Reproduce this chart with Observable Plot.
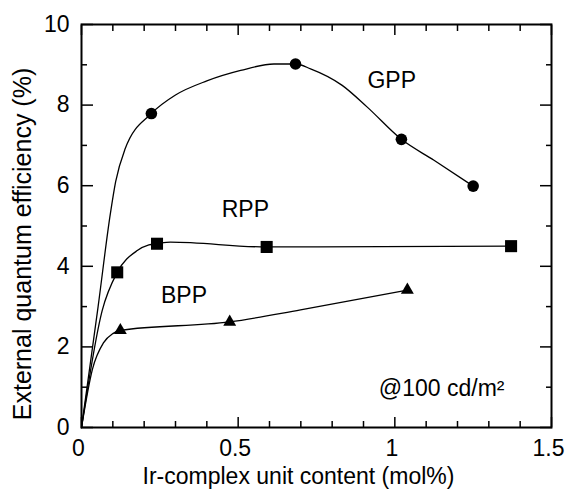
<!DOCTYPE html>
<html>
<head>
<meta charset="utf-8">
<script src="https://cdn.jsdelivr.net/npm/d3@7"></script>
<script src="https://cdn.jsdelivr.net/npm/@observablehq/plot@0.6"></script>
<style>
  html, body { margin: 0; padding: 0; background: white; }
</style>
</head>
<body>
<div id="chart"></div>
<script>
// Measured data points (markers)
const gppX = [0.223, 0.683, 1.021, 1.25];
const gppY = [7.79, 9.02, 7.15, 5.99];
const rppX = [0.114, 0.241, 0.591, 1.371];
const rppY = [3.85, 4.56, 4.48, 4.50];
const bppX = [0.124, 0.473, 1.04];
const bppY = [2.41, 2.62, 3.41];

// Points
const gppFitX = [0, 0.053, 0.092, 0.109, 0.139, 0.223, 0.30, 0.40, 0.508, 0.614, 0.683, 0.731, 0.832, 0.912, 1.021, 1.125, 1.25];
const gppFitY = [0, 3.0, 5.3, 6.1, 6.91, 7.79, 8.25, 8.60, 8.86, 9.02, 9.02, 8.90, 8.49, 7.95, 7.15, 6.63, 5.99];
const rppFitX = [0, 0.066, 0.114, 0.178, 0.215, 0.241, 0.284, 0.591, 1.371];
const rppFitY = [0, 2.9, 3.85, 4.39, 4.53, 4.56, 4.60, 4.48, 4.50];
const bppFitX = [0, 0.035, 0.07, 0.1, 0.124, 0.473, 0.699, 1.04];
const bppFitY = [0, 1.45, 2.1, 2.33, 2.41, 2.62, 2.92, 3.41];

// Annotation labels
const seriesLabels = ["GPP", "RPP", "BPP"];
const seriesLabelX = [0.99, 0.523, 0.327];
const seriesLabelY = [8.6, 5.4, 3.28];
const noteText = "@100 cd/m²";
const noteX = 0.949;
const noteY = 0.96;

// Axes
const xMajorTicks = [0, 0.5, 1, 1.5];
const xTickLabels = ["0", "0.5", "1", "1.5"];
const xMinorTicks = [0.1, 0.2, 0.3, 0.4, 0.6, 0.7, 0.8, 0.9, 1.1, 1.2, 1.3, 1.4];
const yMajorTicks = [0, 2, 4, 6, 8, 10];
const yTickLabels = ["0", "2", "4", "6", "8", "10"];
const yMinorTicks = [1, 3, 5, 7, 9];
const xTitle = "Ir-complex unit content (mol%)";
const yTitle = "External quantum efficiency (%)";

const mk = (xs, ys, s) => xs.map((x, i) => ({x, y: ys[i], s}));
const fit = [...mk(gppFitX, gppFitY, "GPP"), ...mk(rppFitX, rppFitY, "RPP"), ...mk(bppFitX, bppFitY, "BPP")];
const gpp = mk(gppX, gppY, "GPP");
const rpp = mk(rppX, rppY, "RPP");
const bpp = mk(bppX, bppY, "BPP");
const labels = seriesLabels.map((t, i) => ({t, x: seriesLabelX[i], y: seriesLabelY[i]}));

const font = "'Liberation Sans', Arial, Helvetica, sans-serif";
const fs = 23;
const blank = () => "";

const chart = Plot.plot({
  width: 565,
  height: 490,
  marginLeft: 81,
  marginRight: 14,
  marginTop: 24,
  marginBottom: 63,
  style: {fontFamily: font, fontSize: fs + "px", background: "white", color: "black"},
  x: {domain: [0, 1.5]},
  y: {domain: [0, 10]},
  marks: [
    Plot.frame({stroke: "black", strokeWidth: 2}),
    // bottom axis labels
    Plot.axisX(xMajorTicks, {anchor: "bottom", tickSize: 0, tickPadding: 12, dx: -3, tickFormat: (d) => xTickLabels[xMajorTicks.indexOf(d)], fontSize: fs, label: null}),
    Plot.axisX(xMajorTicks, {anchor: "bottom", tickSize: -10, strokeWidth: 1.5, tickFormat: blank, label: null}),
    Plot.axisX(xMinorTicks, {anchor: "bottom", tickSize: -6, strokeWidth: 1.5, tickFormat: blank, label: null}),
    Plot.axisX(xMajorTicks, {anchor: "top", tickSize: -10, strokeWidth: 1.5, tickFormat: blank, label: null}),
    Plot.axisX(xMinorTicks, {anchor: "top", tickSize: -6, strokeWidth: 1.5, tickFormat: blank, label: null}),
    Plot.axisY(yMajorTicks, {anchor: "left", tickSize: 0, tickPadding: 12, tickFormat: (d) => yTickLabels[yMajorTicks.indexOf(d)], fontSize: fs, label: null}),
    Plot.axisY(yMajorTicks, {anchor: "left", tickSize: -12, strokeWidth: 1.5, tickFormat: blank, label: null}),
    Plot.axisY(yMinorTicks, {anchor: "left", tickSize: -6, strokeWidth: 1.5, tickFormat: blank, label: null}),
    Plot.axisY(yMajorTicks, {anchor: "right", tickSize: -12, strokeWidth: 1.5, tickFormat: blank, label: null}),
    Plot.axisY(yMinorTicks, {anchor: "right", tickSize: -6, strokeWidth: 1.5, tickFormat: blank, label: null}),
    // axis titles
    Plot.text([xTitle], {text: (d) => d, frameAnchor: "bottom", textAnchor: "middle", lineAnchor: "middle", dy: 49, dx: -18, fontSize: 23, fill: "black"}),
    Plot.text([yTitle], {text: (d) => d, frameAnchor: "left", textAnchor: "middle", lineAnchor: "middle", rotate: -90, dx: -59, dy: 18, fontSize: 25, fill: "black"}),
    // curves
    Plot.line(fit, {x: "x", y: "y", z: "s", curve: "monotone-x", stroke: "black", strokeWidth: 1.3}),
    // markers
    Plot.dot(gpp, {x: "x", y: "y", symbol: "circle", r: 5.8, fill: "black", stroke: "none"}),
    Plot.dot(rpp, {x: "x", y: "y", symbol: "square", r: 6.8, fill: "black", stroke: "none"}),
    Plot.dot(bpp, {x: "x", y: "y", symbol: "triangle", r: 4.8, fill: "black", stroke: "none"}),
    // labels
    Plot.text(labels, {x: "x", y: "y", text: "t", fontSize: fs, fill: "black"}),
    Plot.text([noteText], {x: () => noteX, y: () => noteY, text: (d) => d, textAnchor: "start", fontSize: fs, fill: "black"})
  ]
});

document.getElementById("chart").appendChild(chart);
</script>
</body>
</html>
